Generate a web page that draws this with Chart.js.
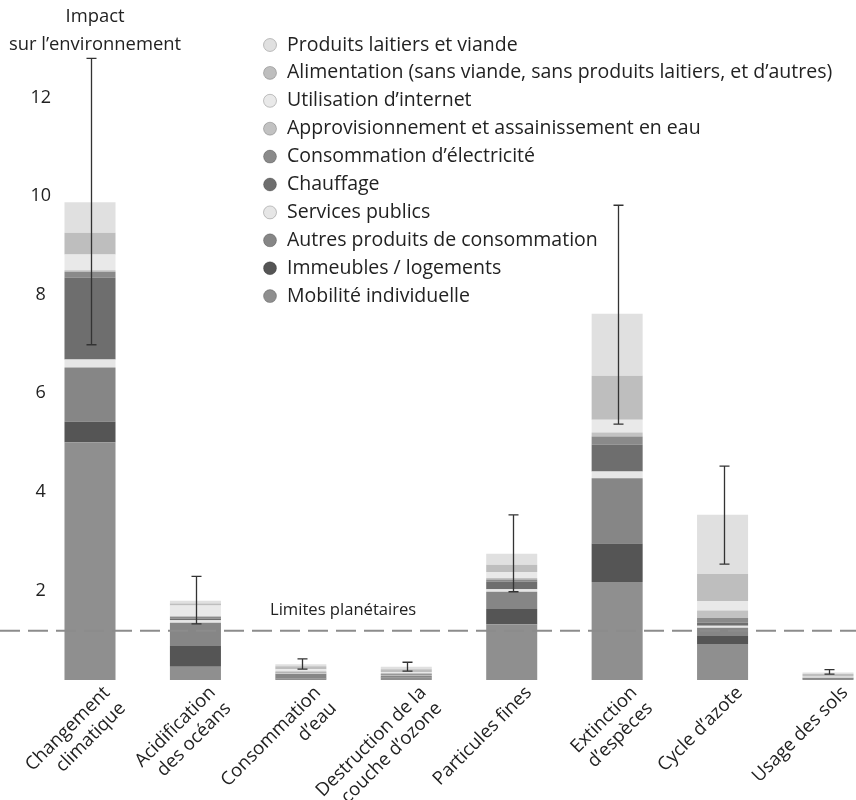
<!DOCTYPE html>
<html><head><meta charset="utf-8">
<script src="https://cdn.jsdelivr.net/npm/chart.js@4/dist/chart.umd.min.js"></script>
<style>html,body{margin:0;padding:0;background:#fff;overflow:hidden}#wrap{position:relative;width:856px;height:800px}</style>
</head><body><div id="wrap"><canvas id="c" width="856" height="800"></canvas></div>
<script>
const categories = [['Changement','climatique'],['Acidification','des océans'],['Consommation','d’eau'],['Destruction de la','couche d’ozone'],'Particules fines',['Extinction','d’espèces'],'Cycle d’azote','Usage des sols'];
const yTickValues = [2,4,6,8,10,12];
const limitValue = 1;
const limitLabel = 'Limites planétaires';
const yTitle = ['Impact','sur l’environnement'];
const seriesNames = ['Mobilité individuelle','Immeubles / logements','Autres produits de consommation','Services publics','Chauffage','Consommation d’électricité','Approvisionnement et assainissement en eau','Utilisation d’internet','Alimentation (sans viande, sans produits laitiers, et d’autres)','Produits laitiers et viande'];
const mobilite      = [4.82,0.27,0.03,0.05,1.13,1.99,0.73,0.02];
const immeubles     = [0.42,0.42,0.01,0.01,0.31,0.78,0.16,0.01];
const autres        = [1.10,0.47,0.08,0.03,0.35,1.32,0.17,0.01];
const services      = [0.16,0.05,0.01,0.01,0.05,0.14,0.04,0.01];
const chauffage     = [1.66,0.04,0.01,0.01,0.16,0.54,0.06,0.00];
const electricite   = [0.12,0.03,0.01,0.01,0.04,0.17,0.10,0.01];
const eau           = [0.03,0.02,0.03,0.02,0.03,0.08,0.15,0.01];
const internet      = [0.32,0.21,0.04,0.02,0.12,0.26,0.19,0.01];
const alimentation  = [0.44,0.04,0.06,0.06,0.15,0.89,0.55,0.04];
const produits      = [0.62,0.06,0.04,0.05,0.22,1.26,1.20,0.03];
const errLow  = [6.80,1.14,0.22,0.18,1.79,5.19,2.35,0.12];
const errHigh = [12.61,2.10,0.43,0.36,3.35,9.63,4.34,0.21];

const seriesValues = [mobilite,immeubles,autres,services,chauffage,electricite,eau,internet,alimentation,produits];
const colors = ['#8f8f8f','#555555','#868686','#e6e6e6','#6e6e6e','#8a8a8a','#c2c2c2','#e9e9e9','#bebebe','#e0e0e0'];
const FONT_FAMILY = '"Open Sans", "Lato", sans-serif';
const TEXT = '#222';

const overlay = {
  id: 'overlay',
  afterDatasetsDraw(chart) {
    const {ctx} = chart; const x = chart.scales.x, y = chart.scales.y;
    ctx.save();
    const ly = y.getPixelForValue(limitValue);
    ctx.strokeStyle = '#8c8c8c'; ctx.lineWidth = 2; ctx.setLineDash([20,8]);
    ctx.beginPath(); ctx.moveTo(0, ly); ctx.lineTo(chart.width, ly); ctx.stroke();
    ctx.setLineDash([]);
    ctx.fillStyle = TEXT; ctx.font = '16.6px ' + FONT_FAMILY; ctx.textBaseline = 'middle'; ctx.textAlign = 'left';
    ctx.fillText(limitLabel, 270, ly - 20);
    ctx.strokeStyle = '#333'; ctx.lineWidth = 1.3;
    for (let i = 0; i < categories.length; i++) {
      const cx = Math.round(x.getPixelForValue(i)) + 1.5;
      const y1 = y.getPixelForValue(errLow[i]), y2 = y.getPixelForValue(errHigh[i]);
      ctx.beginPath();
      ctx.moveTo(cx, y1); ctx.lineTo(cx, y2);
      ctx.moveTo(cx - 5, y1); ctx.lineTo(cx + 5, y1);
      ctx.moveTo(cx - 5, y2); ctx.lineTo(cx + 5, y2);
      ctx.stroke();
    }
    ctx.restore();
  },
  afterDraw(chart) {
    const {ctx} = chart;
    ctx.save();
    ctx.font = '18.4px ' + FONT_FAMILY; ctx.fillStyle = TEXT; ctx.textBaseline = 'middle';
    ctx.textAlign = 'center';
    ctx.fillText(yTitle[0], 95, 17);
    ctx.fillText(yTitle[1], 95, 45);
    ctx.font = '19.5px ' + FONT_FAMILY;
    const ds = chart.data.datasets.slice().reverse();
    ds.forEach((d, k) => {
      const yy = 45 + k * 27.9;
      ctx.beginPath(); ctx.arc(270, yy, 6.5, 0, Math.PI * 2);
      ctx.fillStyle = d.backgroundColor; ctx.fill();
      ctx.strokeStyle = 'rgba(0,0,0,0.22)'; ctx.lineWidth = 1; ctx.stroke();
      ctx.fillStyle = TEXT; ctx.textAlign = 'left';
      ctx.fillText(d.label, 287, yy);
    });
    ctx.restore();
  }
};

new Chart(document.getElementById('c'), {
  type: 'bar',
  data: {
    labels: categories,
    datasets: seriesNames.map((n, i) => ({label: n, data: seriesValues[i], backgroundColor: colors[i], borderWidth: 0, clip: false,
      categoryPercentage: 1, barPercentage: 0.484}))
  },
  options: {
    responsive: false, animation: false,
    layout: {padding: {top: 39.1, right: 28, left: 0, bottom: 0}},
    plugins: {legend: {display: false}, tooltip: {enabled: false}},
    scales: {
      x: {stacked: true, offset: false, grid: {display: false, drawTicks: false}, border: {display: false},
        ticks: {maxRotation: 45, minRotation: 45, autoSkip: false, padding: 2, labelOffset: 17, color: TEXT,
          font: {family: FONT_FAMILY, size: 18.5}},
        afterFit: (a) => { a.height = 120; a.paddingLeft = 0; a.paddingRight = 0; }},
      y: {stacked: true, min: 0, max: 13, grid: {display: false, drawTicks: false}, border: {display: false},
        afterBuildTicks: (a) => { a.ticks = yTickValues.map(v => ({value: v})); },
        ticks: {crossAlign: 'center', padding: 39, labelOffset: 9, color: TEXT, font: {family: FONT_FAMILY, size: 18}},
        afterFit: (a) => { a.width = 90; a.paddingTop = 0; a.paddingBottom = 0; }}
    }
  },
  plugins: [overlay]
});
</script></body></html>
